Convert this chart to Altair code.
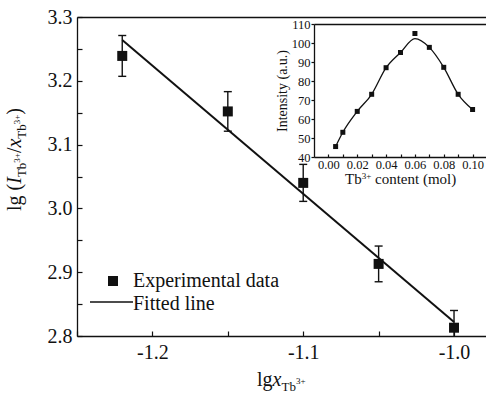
import altair as alt
import pandas as pd

# ---------------- data ----------------
lgx = [-1.22, -1.15, -1.10, -1.05, -1.00]
lgI = [3.239, 3.152, 3.040, 2.913, 2.813]
lgI_err = [0.032, 0.031, 0.029, 0.028, 0.027]
fit_x = [-1.22, -1.00]
fit_y = [3.264, 2.822]

tb_content = [0.005, 0.01, 0.02, 0.03, 0.04, 0.05, 0.06, 0.07, 0.08, 0.09, 0.10]
intensity = [45.5, 53.0, 64.0, 73.0, 87.0, 95.0, 105.0, 97.7, 87.2, 73.0, 65.0]
curve_intensity = [45.5, 53.0, 64.0, 73.0, 87.0, 95.0, 102.3, 97.7, 87.2, 73.0, 65.0]

main_x_labels = [-1.2, -1.1, -1.0]
main_x_ticks = [-1.25, -1.2, -1.15, -1.1, -1.05, -1.0]
main_y_labels = [2.8, 2.9, 3.0, 3.1, 3.2, 3.3]
main_y_ticks = [2.8, 2.85, 2.9, 2.95, 3.0, 3.05, 3.1, 3.15, 3.2, 3.25, 3.3]
inset_x_labels = [0.0, 0.02, 0.04, 0.06, 0.08, 0.10]
inset_x_ticks = [0.0, 0.01, 0.02, 0.03, 0.04, 0.05, 0.06, 0.07, 0.08, 0.09, 0.10]
inset_y_labels = [40, 50, 60, 70, 80, 90, 100, 110]

legend_point = "Experimental data"
legend_line = "Fitted line"

# ---------------- style / layout ----------------
SERIF = "Liberation Serif, Times New Roman, Times, DejaVu Serif, serif"
INK = "#111111"
W, H = 409, 319
PL, PT = 77, 17
IX = [237, 410]
IY = [140, 7]

main_df = pd.DataFrame({
    "lgx": lgx, "lgI": lgI,
    "lo": [v - e for v, e in zip(lgI, lgI_err)],
    "hi": [v + e for v, e in zip(lgI, lgI_err)],
})
fit_df = pd.DataFrame({"fx": fit_x, "fy": fit_y})
inset_df = pd.DataFrame({"c": tb_content, "I": intensity, "curve": curve_intensity})
dummy = pd.DataFrame({"_": [0]})

XS = alt.Scale(domain=[-1.25, -0.9788], nice=False, zero=False)
YS = alt.Scale(domain=[2.8, 3.3], nice=False, zero=False)
IXS = alt.Scale(domain=[-0.01, 0.11], range=IX, nice=False, zero=False)
IYS = alt.Scale(domain=[40, 110], range=IY, nice=False, zero=False)

MINUS_FIX = "replace(datum.label, '\u2212', '-')"


def frame_axis(orient, offset=0):
    return alt.Axis(orient=orient, offset=offset, domain=True, domainColor=INK,
                    domainWidth=1.3, ticks=False, labels=False, grid=False, title=None)


def tick_axis(orient, offset, values, size):
    return alt.Axis(orient=orient, offset=offset, values=values, domain=False,
                    ticks=True, tickSize=size, tickWidth=1.2, tickColor=INK,
                    labels=False, grid=False, title=None)


layers = []

# error bars
layers.append(alt.Chart(main_df).mark_rule(color=INK, strokeWidth=1.4, clip=True).encode(
    x=alt.X("lgx:Q", scale=XS, axis=None),
    y=alt.Y("lo:Q", scale=YS, axis=None), y2="hi:Q"))
for col in ["hi", "lo"]:
    layers.append(alt.Chart(main_df).mark_tick(orient="horizontal", size=8, thickness=1.4,
                                                color=INK, clip=True, opacity=1).encode(
        x=alt.X("lgx:Q", scale=XS, axis=None),
        y=alt.Y(f"{col}:Q", scale=YS, axis=None)))

# squares + labelled axes
layers.append(alt.Chart(main_df).mark_square(size=100, color=INK, opacity=1, clip=True).encode(
    x=alt.X("lgx:Q", scale=XS, axis=alt.Axis(
        orient="bottom", values=main_x_labels, format=".1f", labelExpr=MINUS_FIX,
        ticks=False, tickSize=0, labelPadding=6, labelFont=SERIF, labelFontSize=20,
        labelColor=INK, labelFlush=False, labelOverlap=False,
        domainColor=INK, domainWidth=1.3, grid=False, title=None)),
    y=alt.Y("lgI:Q", scale=YS, axis=alt.Axis(
        orient="left", values=main_y_labels, format=".1f",
        ticks=False, tickSize=0, labelPadding=5, labelFont=SERIF, labelFontSize=20,
        labelColor=INK, labelFlush=False, labelOverlap=False,
        domainColor=INK, domainWidth=1.3, grid=False, title=None))))

# fitted line
layers.append(alt.Chart(fit_df).mark_line(color=INK, strokeWidth=2).encode(
    x=alt.X("fx:Q", scale=XS, axis=None),
    y=alt.Y("fy:Q", scale=YS, axis=None)))

# inward ticks of main plot
layers.append(alt.Chart(main_df).mark_point(opacity=0).encode(
    x=alt.X("lgx:Q", scale=XS, axis=tick_axis("top", -H, main_x_ticks, 5)),
    y=alt.Y("lgI:Q", scale=YS, axis=tick_axis("right", -W, main_y_ticks, 5))))

# top frame of main plot
layers.append(alt.Chart(main_df).mark_point(opacity=0).encode(
    x=alt.X("lgx:Q", scale=XS, axis=frame_axis("top")),
    y=alt.Y("lgI:Q", scale=YS, axis=None)))

# ---------------- inset ----------------
layers.append(alt.Chart(inset_df).mark_line(color=INK, strokeWidth=1.3, interpolate="monotone").encode(
    x=alt.X("c:Q", scale=IXS, axis=tick_axis("top", -IY[0], inset_x_ticks, 3)),
    y=alt.Y("curve:Q", scale=IYS, axis=alt.Axis(
        orient="left", offset=-IX[0], values=inset_y_labels, format="d",
        ticks=True, tickSize=3, tickWidth=1.2, tickColor=INK,
        labelPadding=1, labelFont=SERIF, labelFontSize=12.5, labelColor=INK,
        labelFlush=False, labelOverlap=False,
        domainColor=INK, domainWidth=1.3, grid=False,
        title="Intensity (a.u.)", titleFont=SERIF, titleFontSize=14,
        titleFontWeight="normal", titleColor=INK, titlePadding=2))))

layers.append(alt.Chart(inset_df).mark_square(size=25, color=INK, opacity=1).encode(
    x=alt.X("c:Q", scale=IXS, axis=alt.Axis(
        orient="bottom", offset=-(H - IY[0]), values=inset_x_labels, format=".2f",
        ticks=False, tickSize=0, labelPadding=1, labelFont=SERIF, labelFontSize=12.5,
        labelColor=INK, labelFlush=False, labelOverlap=False,
        domainColor=INK, domainWidth=1.3, grid=False, title=None)),
    y=alt.Y("I:Q", scale=IYS, axis=None)))

layers.append(alt.Chart(inset_df).mark_point(opacity=0).encode(
    x=alt.X("c:Q", scale=IXS, axis=frame_axis("top", -IY[1])),
    y=alt.Y("I:Q", scale=IYS, axis=None)))

# ---------------- text helpers ----------------
EM = {'l': .278, 'g': .5, ' ': .25, '(': .333, ')': .333, 'I': .333, 'T': .611,
      'b': .5, '3': .5, '+': .564, '/': .278, 'x': .444, 'c': .444, 'o': .5,
      'n': .5, 't': .278, 'e': .444, 'm': .778}


def adv(s, size):
    return sum(EM.get(ch, .5) for ch in s) * size


def txt(s, x, y, size, angle=0, italic=False):
    return alt.Chart(dummy).mark_text(
        text=s, font=SERIF, fontSize=size, fontStyle="italic" if italic else "normal",
        angle=angle, align="left", baseline="alphabetic", color=INK
    ).encode(x=alt.value(x), y=alt.value(y))


# y title: lg (I_Tb3+/x_Tb3+), rotated
y_pieces = [("lg", 20, False, 21), (" ", 20, False, 21), ("(", 20, False, 21),
            ("I", 20, True, 21), ("Tb", 13, False, 25.5), ("3+", 9, False, 19.5),
            ("/", 20, False, 21), ("x", 20, True, 21), ("Tb", 13, False, 25.5),
            ("3+", 9, False, 19.5), (")", 20, False, 21)]
cur = 211.0
for s, size, it, bx in y_pieces:
    if s.strip():
        layers.append(txt(s, bx - PL, cur - PT, size, angle=270, italic=it))
    cur -= adv(s, size)

# x title: lg x_Tb3+
x_pieces = [("lg", 20, False, 386), ("x", 20, True, 386),
            ("Tb", 13, False, 390.5), ("3+", 9, False, 384)]
cur = 257.0
for s, size, it, by in x_pieces:
    layers.append(txt(s, cur - PL, by - PT, size, italic=it))
    cur += adv(s, size)

# inset x title: Tb3+ content (mol)
ix_pieces = [("Tb", 15, False, 184), ("3+", 9, False, 178.5), (" ", 15, False, 184),
             ("content (mol)", 15, False, 184)]
cur = 345.0
for s, size, it, by in ix_pieces:
    if s.strip():
        layers.append(txt(s, cur - PL, by - PT, size, italic=it))
    cur += adv(s, size)

# legend
layers.append(alt.Chart(dummy).mark_square(size=100, color=INK, opacity=1).encode(
    x=alt.value(113 - PL), y=alt.value(281 - PT)))
layers.append(txt(legend_point, 133 - PL, 287 - PT, 20))
layers.append(alt.Chart(dummy).mark_rule(color=INK, strokeWidth=1.6).encode(
    x=alt.value(90 - PL), x2=alt.value(133 - PL), y=alt.value(302 - PT)))
layers.append(txt(legend_line, 133 - PL, 309.5 - PT, 20))

chart = alt.layer(*layers).resolve_scale(
    x="independent", y="independent"
).resolve_axis(
    x="independent", y="independent"
).properties(
    width=W, height=H,
    autosize=alt.AutoSizeParams(type="none"),
    padding={"left": PL, "top": PT, "right": 0, "bottom": 396 - PT - H},
    background="white",
).configure_view(stroke=None)

chart.save("out.html", embed_options={"renderer": "svg", "actions": False})
